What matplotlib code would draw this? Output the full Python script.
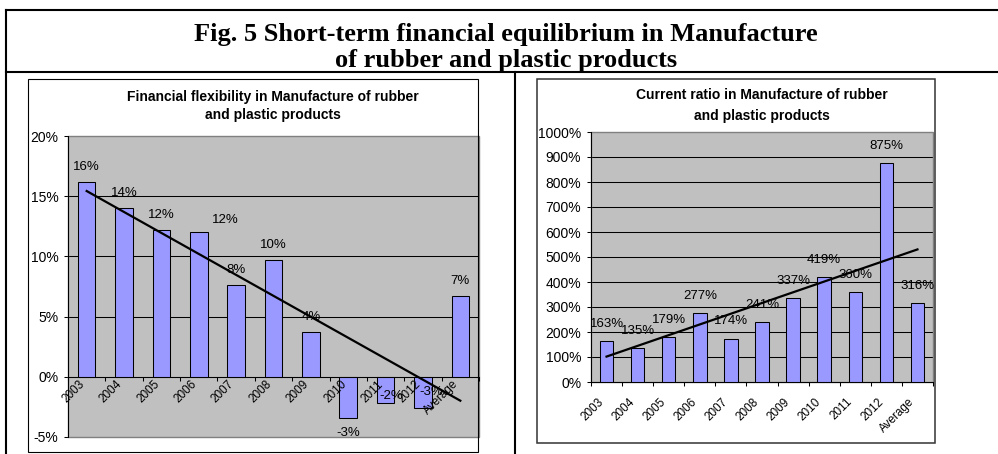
"""
Fig. 5 - short-term financial equilibrium, rubber and plastic products
"""

import matplotlib.pyplot as plt
import numpy as np
from matplotlib.lines import Line2D
from matplotlib.patches import Rectangle
from matplotlib.transforms import ScaledTranslation

# Data
categories = ["2003", "2004", "2005", "2006", "2007", "2008", "2009", "2010", "2011", "2012", "Average"]
flex_values = [16.2, 14.0, 12.2, 12.0, 7.6, 9.7, 3.7, -3.4, -2.2, -2.6, 6.75]
ratio_values = [163, 135, 179, 277, 174, 241, 337, 419, 360, 875, 316]

W, H = 998, 454
BAR = "#9999FF"
PLOT_BG = "#C0C0C0"
BORDER = "#808080"

plt.rcParams["font.family"] = ["Liberation Sans", "DejaVu Sans"]

fig = plt.figure(figsize=(W / 100, H / 100), dpi=100, facecolor="white")


def px_axes(x0, y0, x1, y1):
    # axes placed by pixel box (top-left origin)
    return fig.add_axes([x0 / W, 1 - y1 / H, (x1 - x0) / W, (y1 - y0) / H])


def fig_line(x0, y0, x1, y1, lw=1.5, color="black"):
    fig.add_artist(Line2D([x0 / W, x1 / W], [1 - y0 / H, 1 - y1 / H],
                          transform=fig.transFigure, color=color, lw=lw))


def fig_box(x0, y0, x1, y1, lw=0.8, color="black"):
    fig.add_artist(Rectangle((x0 / W, 1 - y1 / H), (x1 - x0) / W, (y1 - y0) / H,
                             transform=fig.transFigure, fill=False, ec=color, lw=lw))


def fig_text(x, y, s, **kw):
    fig.text(x / W, 1 - y / H, s, ha="center", va="center", **kw)


# Outer frame
fig_line(6, 10, 998, 10)
fig_line(6, 10, 6, 454)
fig_line(6, 72, 998, 72)
fig_line(515, 72, 515, 454)

fig_text(506, 35, "Fig. 5 Short-term financial equilibrium in Manufacture",
         family="Liberation Serif", weight="bold", fontsize=19)
fig_text(506, 60, "of rubber and plastic products",
         family="Liberation Serif", weight="bold", fontsize=19)

# Chart boxes
fig_box(28, 79, 478, 452)
fig_box(537, 79, 935, 443, lw=1.1, color="#333333")

fig_text(273, 97, "Financial flexibility in Manufacture of rubber", weight="bold", fontsize=10)
fig_text(273, 115, "and plastic products", weight="bold", fontsize=10)
fig_text(762, 95, "Current ratio in Manufacture of rubber", weight="bold", fontsize=10)
fig_text(762, 116, "and plastic products", weight="bold", fontsize=10)

x = np.arange(len(categories))


def style_axes(ax, ymin, ymax, step, fmt_fn, axis_at_zero, label_pad, label_dx):
    ax.set_facecolor(PLOT_BG)
    if axis_at_zero:
        ax.spines["bottom"].set_position(("data", 0))
    ax.set_xlim(-0.5, len(categories) - 0.5)
    ax.set_ylim(ymin, ymax)
    ax.set_yticks(np.arange(ymin, ymax + step / 2, step))
    ax.yaxis.set_major_formatter(lambda v, p: fmt_fn(v))
    for v in np.arange(ymin + step, ymax, step):
        ax.axhline(v, color="black", lw=0.75, zorder=1)
    for s in ["top", "right"]:
        ax.spines[s].set_visible(False)
    ax.add_patch(Rectangle((0, 0), 1, 1, transform=ax.transAxes, fill=False,
                           ec=BORDER, lw=1, zorder=2, clip_on=False))
    ax.spines["left"].set_color("black")
    ax.spines["left"].set_linewidth(0.75)
    ax.spines["left"].set_zorder(4)
    ax.spines["bottom"].set_linewidth(0.75)
    ax.spines["bottom"].set_zorder(4)
    ax.xaxis.set_zorder(4)
    ax.tick_params(axis="y", length=3, width=0.75, pad=4, labelsize=10, direction="out")
    # ticks at category boundaries, labels at centres
    ax.set_xticks(np.arange(-0.5, len(categories), 1))
    ax.set_xticklabels([])
    ax.set_xticks(x, minor=True)
    ax.set_xticklabels(categories, minor=True, rotation=45, ha="right",
                       rotation_mode="anchor", fontsize=8.5)
    ax.tick_params(axis="x", which="major", length=3, width=0.75, direction="out")
    ax.tick_params(axis="x", which="minor", length=0, pad=label_pad)
    for lbl in ax.get_xticklabels(minor=True):
        lbl.set_transform(lbl.get_transform()
                          + ScaledTranslation(label_dx / 100, 0, fig.dpi_scale_trans))


# Left chart: financial flexibility
ax1 = px_axes(68, 136, 479, 437)
style_axes(ax1, -5, 20, 5, lambda v: f"{v:.0f}%", True, 1, -8)
ax1.bar(x, flex_values, width=0.47, color=BAR, edgecolor="black", linewidth=0.75, zorder=3)
trend = np.polyval(np.polyfit(x, flex_values, 1), x[[0, -1]])
ax1.plot(x[[0, -1]], trend, color="black", lw=1.6, zorder=5)

# label offsets in pixels (Excel moved a few of them)
flex_shift = {3: (27, 12), 8: (6, 7), 9: (8, 16)}
for i, v in enumerate(flex_values):
    dx, dy = flex_shift.get(i, (0, 15 if v >= 0 else -15))
    ax1.annotate(f"{v:.0f}%", (i, v), xytext=(dx, dy), textcoords="offset pixels",
                 ha="center", va="center", fontsize=9.5, zorder=6)

# Right chart: current ratio
ax2 = px_axes(591, 132, 933, 382)
style_axes(ax2, 0, 1000, 100, lambda v: f"{v:.0f}%", False, 10, -9)
ax2.bar(x, ratio_values, width=0.43, color=BAR, edgecolor="black", linewidth=0.75, zorder=3)
trend = np.polyval(np.polyfit(x, ratio_values, 1), x[[0, -1]])
ax2.plot(x[[0, -1]], trend, color="black", lw=1.6, zorder=5)
for i, v in enumerate(ratio_values):
    ax2.annotate(f"{v}%", (i, v), xytext=(0, 17), textcoords="offset pixels",
                 ha="center", va="center", fontsize=9.5, zorder=6)

fig.savefig("out.png", dpi=100, facecolor="white")
